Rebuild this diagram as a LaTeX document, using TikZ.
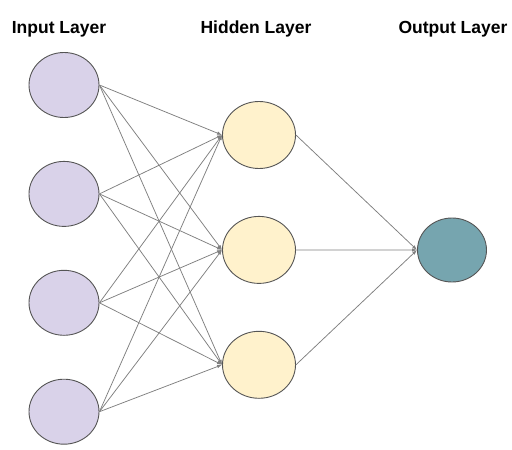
\documentclass[tikz,border=0pt]{standalone}
\usepackage{fontspec}
\setsansfont{Liberation Sans}
\usetikzlibrary{arrows.meta,positioning,shapes.geometric}
\definecolor{inputFill}{HTML}{D9D2E9}
\definecolor{hiddenFill}{HTML}{FFF2CC}
\definecolor{outputFill}{HTML}{76A5AF}
\definecolor{rim}{HTML}{555555}
\definecolor{wire}{HTML}{7F7F7F}

\begin{document}
\begin{tikzpicture}[
  x=1pt,y=-1pt,
  font=\sffamily\bfseries\fontsize{17.5}{20}\selectfont,
  neuron/.style={ellipse,draw=rim,fill=#1,line width=0.9pt,minimum width=70pt,minimum height=65pt,inner sep=0pt},
  title/.style={anchor=center,text=black},
  link/.style={-{Latex[length=5pt,width=3.5pt]},line width=0.75pt,draw=wire}
]
\useasboundingbox (0,0) rectangle (512,450);
\node[neuron=inputFill] (in1) at (64,85) {};
\node[neuron=inputFill,below=43pt of in1] (in2) {};
\node[neuron=inputFill,below=43pt of in2] (in3) {};
\node[neuron=inputFill,below=43pt of in3] (in4) {};
\node[neuron=hiddenFill,minimum width=73pt,minimum height=67pt] (hid1) at (259,135) {};
\node[neuron=hiddenFill,minimum width=73pt,minimum height=67pt,below=47pt of hid1] (hid2) {};
\node[neuron=hiddenFill,minimum width=73pt,minimum height=67pt,below=47pt of hid2] (hid3) {};
\node[neuron=outputFill,minimum width=69pt,minimum height=64pt] (out) at (452,250) {};
\node[title] (tin) at (59,29) {Input Layer};
\node[title] (thid) at (256,29) {Hidden Layer};
\node[title] (tout) at (453,29) {Output Layer};
% input -> hidden
\draw[link] (in1.east) -- (hid1.west);
\draw[link] (in1.east) -- (hid2.west);
\draw[link] (in1.east) -- (hid3.west);
\draw[link] (in2.east) -- (hid1.west);
\draw[link] (in2.east) -- (hid2.west);
\draw[link] (in2.east) -- (hid3.west);
\draw[link] (in3.east) -- (hid1.west);
\draw[link] (in3.east) -- (hid2.west);
\draw[link] (in3.east) -- (hid3.west);
\draw[link] (in4.east) -- (hid1.west);
\draw[link] (in4.east) -- (hid2.west);
\draw[link] (in4.east) -- (hid3.west);
% hidden -> output
\draw[link] (hid1.east) -- (out.west);
\draw[link] (hid2.east) -- (out.west);
\draw[link] (hid3.east) -- (out.west);
\end{tikzpicture}
\end{document}
